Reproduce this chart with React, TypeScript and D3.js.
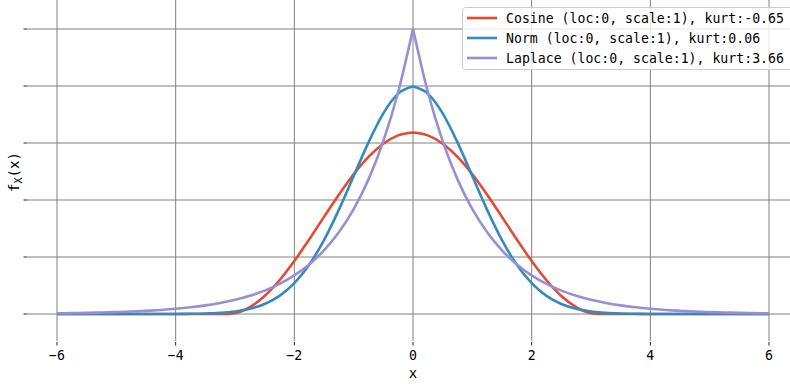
import React from "react";
import * as d3 from "d3";

const xs = [
  -6, -5.75, -5.5, -5.25, -5, -4.75, -4.5, -4.25, -4, -3.75, -3.5, -3.25, -3, -2.75, -2.5, -2.25, -2, -1.75, -1.5, -1.25, -1, -0.75, -0.5, -0.25,
  0, 0.25, 0.5, 0.75, 1, 1.25, 1.5, 1.75, 2, 2.25, 2.5, 2.75, 3, 3.25, 3.5, 3.75, 4, 4.25, 4.5, 4.75, 5, 5.25, 5.5, 5.75, 6,
];

const cosineY = [
  0, 0, 0, 0, 0, 0, 0, 0, 0, 0, 0, 0, 0.0016, 0.0121, 0.0317, 0.0592, 0.0929, 0.1308, 0.1704, 0.2093, 0.2452, 0.2756, 0.2988, 0.3134,
  0.3183, 0.3134, 0.2988, 0.2756, 0.2452, 0.2093, 0.1704, 0.1308, 0.0929, 0.0592, 0.0317, 0.0121, 0.0016, 0, 0, 0, 0, 0, 0, 0, 0, 0, 0, 0, 0,
];

const normY = [
  0, 0, 0, 0, 0, 0, 0, 0.00005, 0.00013, 0.00035, 0.00087, 0.00203, 0.00443, 0.00909, 0.01753, 0.03174, 0.05399, 0.08628, 0.12952, 0.18265, 0.24197, 0.30114, 0.35207, 0.38667,
  0.39894, 0.38667, 0.35207, 0.30114, 0.24197, 0.18265, 0.12952, 0.08628, 0.05399, 0.03174, 0.01753, 0.00909, 0.00443, 0.00203, 0.00087, 0.00035, 0.00013, 0.00005, 0, 0, 0, 0, 0, 0, 0,
];

const laplaceY = [
  0.00124, 0.00159, 0.00204, 0.00262, 0.00337, 0.00433, 0.00555, 0.00713, 0.00916, 0.01176, 0.0151, 0.01939, 0.02489, 0.03196, 0.04104, 0.0527, 0.06767, 0.08689, 0.11157, 0.14325, 0.18394, 0.23618, 0.30327, 0.3894,
  0.5, 0.3894, 0.30327, 0.23618, 0.18394, 0.14325, 0.11157, 0.08689, 0.06767, 0.0527, 0.04104, 0.03196, 0.02489, 0.01939, 0.0151, 0.01176, 0.00916, 0.00713, 0.00555, 0.00433, 0.00337, 0.00262, 0.00204, 0.00159, 0.00124,
];

const seriesNames = [
  "Cosine (loc:0, scale:1), kurt:-0.65",
  "Norm (loc:0, scale:1), kurt:0.06",
  "Laplace (loc:0, scale:1), kurt:3.66",
];
const seriesColors = ["#E24A33", "#348ABD", "#988ED5"];
const seriesData = [cosineY, normY, laplaceY];

const xTicks = [-6, -4, -2, 0, 2, 4, 6];
const yTicks = [0, 0.1, 0.2, 0.3, 0.4, 0.5];

const W = 790;
const H = 385;
const FONT = "DejaVu Sans Mono, Liberation Mono, monospace";

export default function App() {
  const x = d3.scaleLinear().domain([-6, 6]).range([57, 769]);
  const y = d3.scaleLinear().domain([0, 0.5]).range([314, 29]);
  const axLeft = 27;
  const axBottom = 341;

  const line = d3
    .line<[number, number]>()
    .x((d) => x(d[0]))
    .y((d) => y(d[1]))
    .curve(d3.curveMonotoneX);

  const paths = seriesData.map((ys) => {
    const pts: [number, number][] = xs.map((v, i) => [v, ys[i]]);
    const left = pts.filter((p) => p[0] <= 0);
    const right = pts.filter((p) => p[0] >= 0);
    return (line(left) || "") + (line(right) || "");
  });

  const txt = { fontFamily: FONT } as React.CSSProperties;

  return (
    <div style={{ position: "absolute", left: 0, top: 0 }}>
      <svg width={W} height={H} style={{ display: "block", background: "#fff" }}>
        {yTicks.map((t) => (
          <line key={"gy" + t} x1={axLeft} x2={W} y1={y(t)} y2={y(t)} stroke="#808080" strokeWidth={1} />
        ))}
        {xTicks.map((t) => (
          <line key={"gx" + t} x1={x(t)} x2={x(t)} y1={0} y2={axBottom} stroke="#808080" strokeWidth={1} />
        ))}
        {yTicks.map((t) => (
          <line key={"ty" + t} x1={axLeft - 3.5} x2={axLeft} y1={y(t)} y2={y(t)} stroke="#222" strokeWidth={1} />
        ))}
        {xTicks.map((t) => (
          <line key={"tx" + t} x1={x(t)} x2={x(t)} y1={axBottom + 1} y2={axBottom + 4.5} stroke="#222" strokeWidth={1} />
        ))}
        {xTicks.map((t) => (
          <text key={"lx" + t} x={x(t)} y={360} textAnchor="middle" style={txt} fontSize={13.2} fill="#000">
            {t < 0 ? "\u2212" + Math.abs(t) : String(t)}
          </text>
        ))}
        {paths.map((d, i) => (
          <path key={"p" + i} d={d} fill="none" stroke={seriesColors[i]} strokeWidth={2.6} strokeLinejoin="round" />
        ))}
        <text x={413} y={378} textAnchor="middle" style={txt} fontSize={14} fill="#000">
          x
        </text>
        <text transform="translate(19,172) rotate(-90)" textAnchor="middle" style={txt} fontSize={14} fill="#000">
          f<tspan fontSize={10} dy={3}>X</tspan>
          <tspan dy={-3}>(x)</tspan>
        </text>
        <rect x={462.5} y={7.5} width={340} height={62} rx={3} fill="#fff" fillOpacity={0.8} stroke="#ccc" strokeWidth={1} />
        {seriesNames.map((n, i) => (
          <g key={"lg" + i}>
            <line x1={467} x2={497} y1={18 + i * 20} y2={18 + i * 20} stroke={seriesColors[i]} strokeWidth={2.6} />
            <text x={506} y={22.5 + i * 20} style={txt} fontSize={13.2} fill="#000">
              {n}
            </text>
          </g>
        ))}
      </svg>
    </div>
  );
}
